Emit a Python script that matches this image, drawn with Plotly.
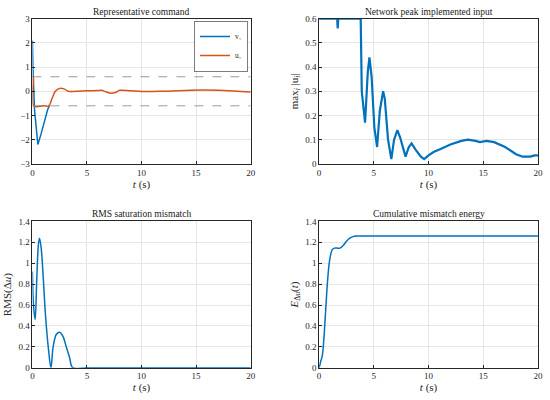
import plotly.graph_objects as go
from plotly.subplots import make_subplots

BLUE = "#0072BD"
RED = "#D95319"
FONT = "Liberation Serif, Times New Roman, DejaVu Serif, serif"

# Representative command
t_v1 = [0.0, 0.05, 0.2, 0.5, 0.8, 1.1, 1.4, 1.55]
v1 = [2.1, 0.9, -0.8, -2.2, -1.75, -1.2, -0.75, -0.6]

t_u1 = [0.0, 0.08, 0.12, 1.0, 1.5, 1.8, 2.1, 2.5, 2.9, 3.3, 4.0, 5.0, 6.0, 6.3, 6.8, 7.2, 7.6, 8.0,
        9.0, 10.0, 12.0, 14.0, 15.5, 17.0, 18.5, 20.0]
u1 = [0.6, 0.6, -0.6, -0.6, -0.6, -0.3, 0.0, 0.12, 0.1, 0.0, 0.0, 0.02, 0.03, 0.04, -0.03,
      -0.08, -0.05, 0.04, 0.02, -0.01, 0.0, 0.03, 0.05, 0.04, 0.01, -0.03]
sat_limit = 0.6

# Network peak implemented input
t_peak = [0.0, 1.65, 1.7, 1.75, 3.8, 3.9, 4.2, 4.45, 4.6, 4.8, 5.05, 5.3, 5.55, 5.85, 6.0, 6.3,
          6.6, 6.85, 7.15, 7.4, 7.9, 8.2, 8.45, 8.8, 9.3, 9.6, 10.0, 10.5, 11.0, 12.0, 13.0,
          13.6, 14.3, 14.7, 15.3, 16.0, 17.0, 18.0, 18.6, 19.3, 19.7, 20.0]
peak = [0.6, 0.6, 0.56, 0.6, 0.6, 0.3, 0.17, 0.38, 0.44, 0.36, 0.15, 0.07, 0.22, 0.3, 0.27,
        0.1, 0.02, 0.1, 0.14, 0.11, 0.03, 0.07, 0.085, 0.06, 0.03, 0.02, 0.035, 0.05, 0.06,
        0.08, 0.095, 0.1, 0.095, 0.09, 0.095, 0.09, 0.07, 0.04, 0.03, 0.03, 0.035, 0.035]

# RMS saturation mismatch
t_rms = [0.0, 0.1, 0.25, 0.4, 0.55, 0.65, 0.8, 1.0, 1.2, 1.45, 1.7, 1.9, 2.2, 2.5, 2.8, 3.1,
         3.4, 3.7, 5.0, 10.0, 20.0]
rms = [0.92, 0.6, 0.46, 0.85, 1.18, 1.24, 1.15, 0.85, 0.5, 0.2, 0.0, 0.2, 0.32, 0.34, 0.3,
       0.2, 0.1, 0.0, 0.0, 0.0, 0.0]

# Cumulative mismatch energy
t_energy = [0.0, 0.15, 0.3, 0.45, 0.6, 0.75, 0.9, 1.05, 1.2, 1.4, 1.6, 1.9, 2.2, 2.5, 2.8,
            3.1, 3.4, 3.7, 5.0, 10.0, 20.0]
energy = [0.0, 0.06, 0.12, 0.3, 0.55, 0.8, 0.98, 1.08, 1.13, 1.145, 1.145, 1.145, 1.17,
          1.21, 1.24, 1.255, 1.26, 1.26, 1.26, 1.26, 1.26]

titles = ["Representative command", "Network peak implemented input",
          "RMS saturation mismatch", "Cumulative mismatch energy"]

fig = make_subplots(rows=2, cols=2)

fig.add_trace(go.Scatter(x=t_v1, y=v1, mode="lines", name="v₁",
                         line=dict(color=BLUE, width=1.5)), row=1, col=1)
fig.add_trace(go.Scatter(x=t_u1, y=u1, mode="lines", name="u₁", line_shape="spline",
                         line=dict(color=RED, width=1.5)), row=1, col=1)
for lim in (sat_limit, -sat_limit):
    fig.add_trace(go.Scatter(x=[0, 20], y=[lim, lim], mode="lines", showlegend=False,
                             line=dict(color="#808080", width=0.8, dash="dash")), row=1, col=1)

fig.add_trace(go.Scatter(x=t_peak, y=peak, mode="lines", showlegend=False,
                         line=dict(color=BLUE, width=2.2)), row=1, col=2)
fig.add_trace(go.Scatter(x=t_rms, y=rms, mode="lines", showlegend=False, line_shape="spline",
                         line=dict(color=BLUE, width=1.5)), row=2, col=1)
fig.add_trace(go.Scatter(x=t_energy, y=energy, mode="lines", showlegend=False, line_shape="spline",
                         line=dict(color=BLUE, width=1.5)), row=2, col=2)

x_domains = [[0.056, 0.458], [0.584, 0.987]]
y_domains = [[0.5925, 0.965], [0.07, 0.445]]
y_ranges = [[-3, 3], [0, 0.6], [0, 1.4], [0, 1.4]]
y_dticks = [1, 0.1, 0.2, 0.2]
y_labels = ["", "max<sub><i>i</i></sub> |u<sub><i>i</i></sub>|", "RMS(Δ<i>u</i>)",
            "<i>E</i><sub>Δu</sub>(<i>t</i>)"]

axis_style = dict(showline=True, linecolor="#262626", linewidth=0.6, mirror=True,
                  ticks="inside", ticklen=3, tickcolor="#262626", showgrid=True,
                  gridcolor="#e6e6e6", gridwidth=0.6, zeroline=False,
                  ticklabeloverflow="allow",
                  tickfont=dict(family=FONT, size=9, color="#262626"))

for k in range(4):
    r, c = divmod(k, 2)
    suffix = "" if k == 0 else str(k + 1)
    fig.layout["xaxis" + suffix].update(
        domain=x_domains[c], range=[0, 20], dtick=5,
        title=dict(text="<i>t</i> (s)", font=dict(family=FONT, size=11), standoff=0),
        **axis_style)
    fig.layout["yaxis" + suffix].update(
        domain=y_domains[r], range=y_ranges[k], dtick=y_dticks[k],
        title=dict(text=y_labels[k], font=dict(family=FONT, size=11), standoff=4),
        **axis_style)
    fig.add_annotation(text=titles[k], xref="paper", yref="paper",
                       x=sum(x_domains[c]) / 2, y=y_domains[r][1], yanchor="bottom",
                       xanchor="center", showarrow=False,
                       font=dict(family=FONT, size=9.5, color="#1a1a1a"))

fig.update_layout(
    width=550, height=400,
    margin=dict(l=0, r=0, t=0, b=0),
    paper_bgcolor="white", plot_bgcolor="white",
    font=dict(family=FONT, color="#262626"),
    legend=dict(x=0.452, y=0.958, xanchor="right", yanchor="top",
                bordercolor="#262626", borderwidth=0.6, bgcolor="white",
                font=dict(family=FONT, size=7.5), tracegroupgap=0, itemwidth=30),
)

fig.write_html("out.html", config={"displayModeBar": False},
               post_script="document.body.style.margin = '0';")
